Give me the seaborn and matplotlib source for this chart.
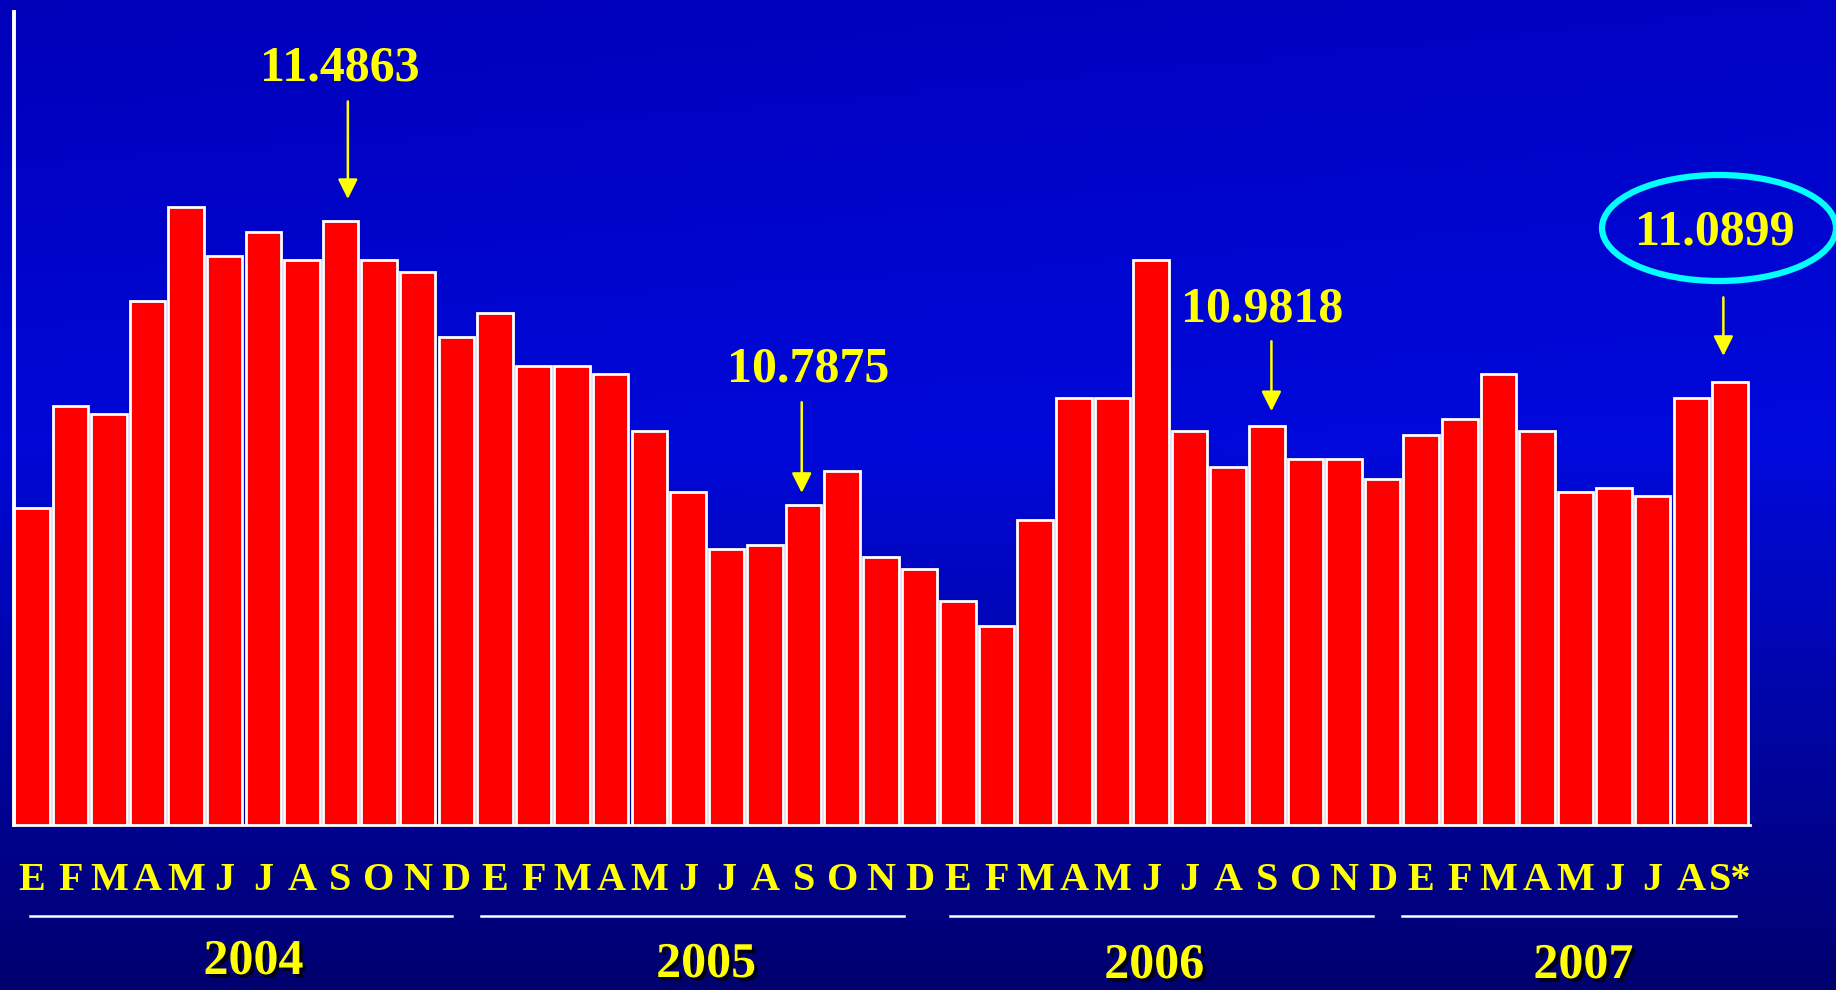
import numpy as np
import pandas as pd
import matplotlib
matplotlib.use('Agg')
import matplotlib.pyplot as plt
import matplotlib.patheffects as pe
from matplotlib.patches import Ellipse
from matplotlib import transforms
import seaborn as sns

# valores mensuales
v2004 = [10.78, 11.03, 11.01, 11.29, 11.52, 11.40, 11.46, 11.39, 11.4863, 11.39, 11.36, 11.20]
v2005 = [11.26, 11.13, 11.13, 11.11, 10.97, 10.82, 10.68, 10.69, 10.7875, 10.87, 10.66, 10.63]
v2006 = [10.55, 10.49, 10.75, 11.05, 11.05, 11.39, 10.97, 10.88, 10.9818, 10.90, 10.90, 10.85]
v2007 = [10.96, 11.00, 11.11, 10.97, 10.82, 10.83, 10.81, 11.05, 11.0899]

meses = ['E', 'F', 'M', 'A', 'M', 'J', 'J', 'A', 'S', 'O', 'N', 'D']
meses2007 = ['E', 'F', 'M', 'A', 'M', 'J', 'J', 'A', 'S*']
anios = ['2004', '2005', '2006', '2007']
destacados = ['11.4863', '10.7875', '10.9818', '11.0899']

valores = v2004 + v2005 + v2006 + v2007
etiquetas = meses * 3 + meses2007
df = pd.DataFrame({'pos': range(len(valores)), 'valor': valores})

serif = ['Liberation Serif', 'DejaVu Serif']
amarillo = '#FFFF00'

fig = plt.figure(figsize=(18.36, 9.9), dpi=100)

# fondo degradado azul
bg = fig.add_axes([0, 0, 1, 1], zorder=-10)
yy = np.linspace(0, 1, 200)[:, None]
xx = np.linspace(0, 1, 200)[None, :]
top = np.array([0, 0, 185]) / 255
mid = np.array([0, 8, 215]) / 255
bot = np.array([0, 0, 110]) / 255
t = np.clip(yy / 0.45, 0, 1)
t2 = np.clip((yy - 0.45) / 0.55, 0, 1)
col = np.where(yy[..., None] < 0.45,
               top + (mid - top) * t[..., None],
               mid + (bot - mid) * t2[..., None])
col = col + (0.04 * xx * (1 - yy))[..., None] * np.array([0, 0.3, 1])
col = np.clip(col, 0, 1)
bg.imshow(col * np.ones((200, 200, 1)), aspect='auto', extent=[0, 1, 0, 1], origin='upper')
bg.axis('off')

ax = fig.add_axes([14 / 1836, 1 - 825 / 990, (1750 - 14) / 1836, (825 - 12) / 990])
ax.patch.set_alpha(0)

sns.barplot(data=df, x='pos', y='valor', color='#FF0000', saturation=1,
            edgecolor='white', linewidth=2, width=0.92, ax=ax)

ax.set_ylim(10, 12)
ax.set_xlim(-0.46, 44.52)
ax.set_xlabel('')
ax.set_ylabel('')
ax.set_yticks([])
ax.set_xticks(range(len(etiquetas)))
ax.set_xticklabels(etiquetas, color=amarillo, fontsize=29, fontweight='bold', family=serif)
ax.tick_params(axis='x', length=0, pad=27)
for s in ['top', 'right']:
    ax.spines[s].set_visible(False)
ax.spines['left'].set_color('white')
ax.spines['left'].set_linewidth(2.8)
ax.spines['bottom'].set_color('white')
ax.spines['bottom'].set_linewidth(2)

# lineas y rotulos de los anios
tr = transforms.blended_transform_factory(ax.transData, fig.transFigure)
tramos = [(-0.05, 10.9), (11.65, 22.6), (23.8, 34.75), (35.5, 44.15)]
centros = [5.74, 17.47, 29.08, 40.2]
bases = [974, 977, 978, 978]
for (a, b), c, h, anio in zip(tramos, centros, bases, anios):
    ax.plot([a, b], [1 - 916 / 990] * 2, color='white', lw=1.8, transform=tr, clip_on=False)
    ax.text(c, 1 - h / 990, anio, transform=tr, ha='center', va='baseline',
            color=amarillo, fontsize=36, fontweight='bold', family=serif,
            path_effects=[pe.withSimplePatchShadow(offset=(2.5, -2.5), shadow_rgbFace='black', alpha=0.8)])

# valores destacados con flechas
textos = [(7.99, 11.86), (20.11, 11.12), (31.87, 11.267), (43.62, 11.458)]
flechas = [(8.19, 11.78, 11.54), (19.95, 11.04, 10.817), (32.12, 11.19, 11.018), (43.83, 11.298, 11.154)]
for txt, (tx, ty), (fx, f0, f1) in zip(destacados, textos, flechas):
    ax.text(tx, ty, txt, ha='center', va='center', color=amarillo,
            fontsize=36, fontweight='bold', family=serif, clip_on=False)
    ax.annotate('', xy=(fx, f1), xytext=(fx, f0),
                arrowprops=dict(arrowstyle='-|>', color=amarillo, lw=1.8,
                                mutation_scale=30, shrinkA=0, shrinkB=0))

elipse = Ellipse((1719 / 1836, 1 - 228 / 990), 234 / 1836, 106 / 990,
                 transform=fig.transFigure, fill=False, edgecolor='#00FFFF', lw=4.5)
fig.add_artist(elipse)

fig.savefig('out.png', dpi=100)
